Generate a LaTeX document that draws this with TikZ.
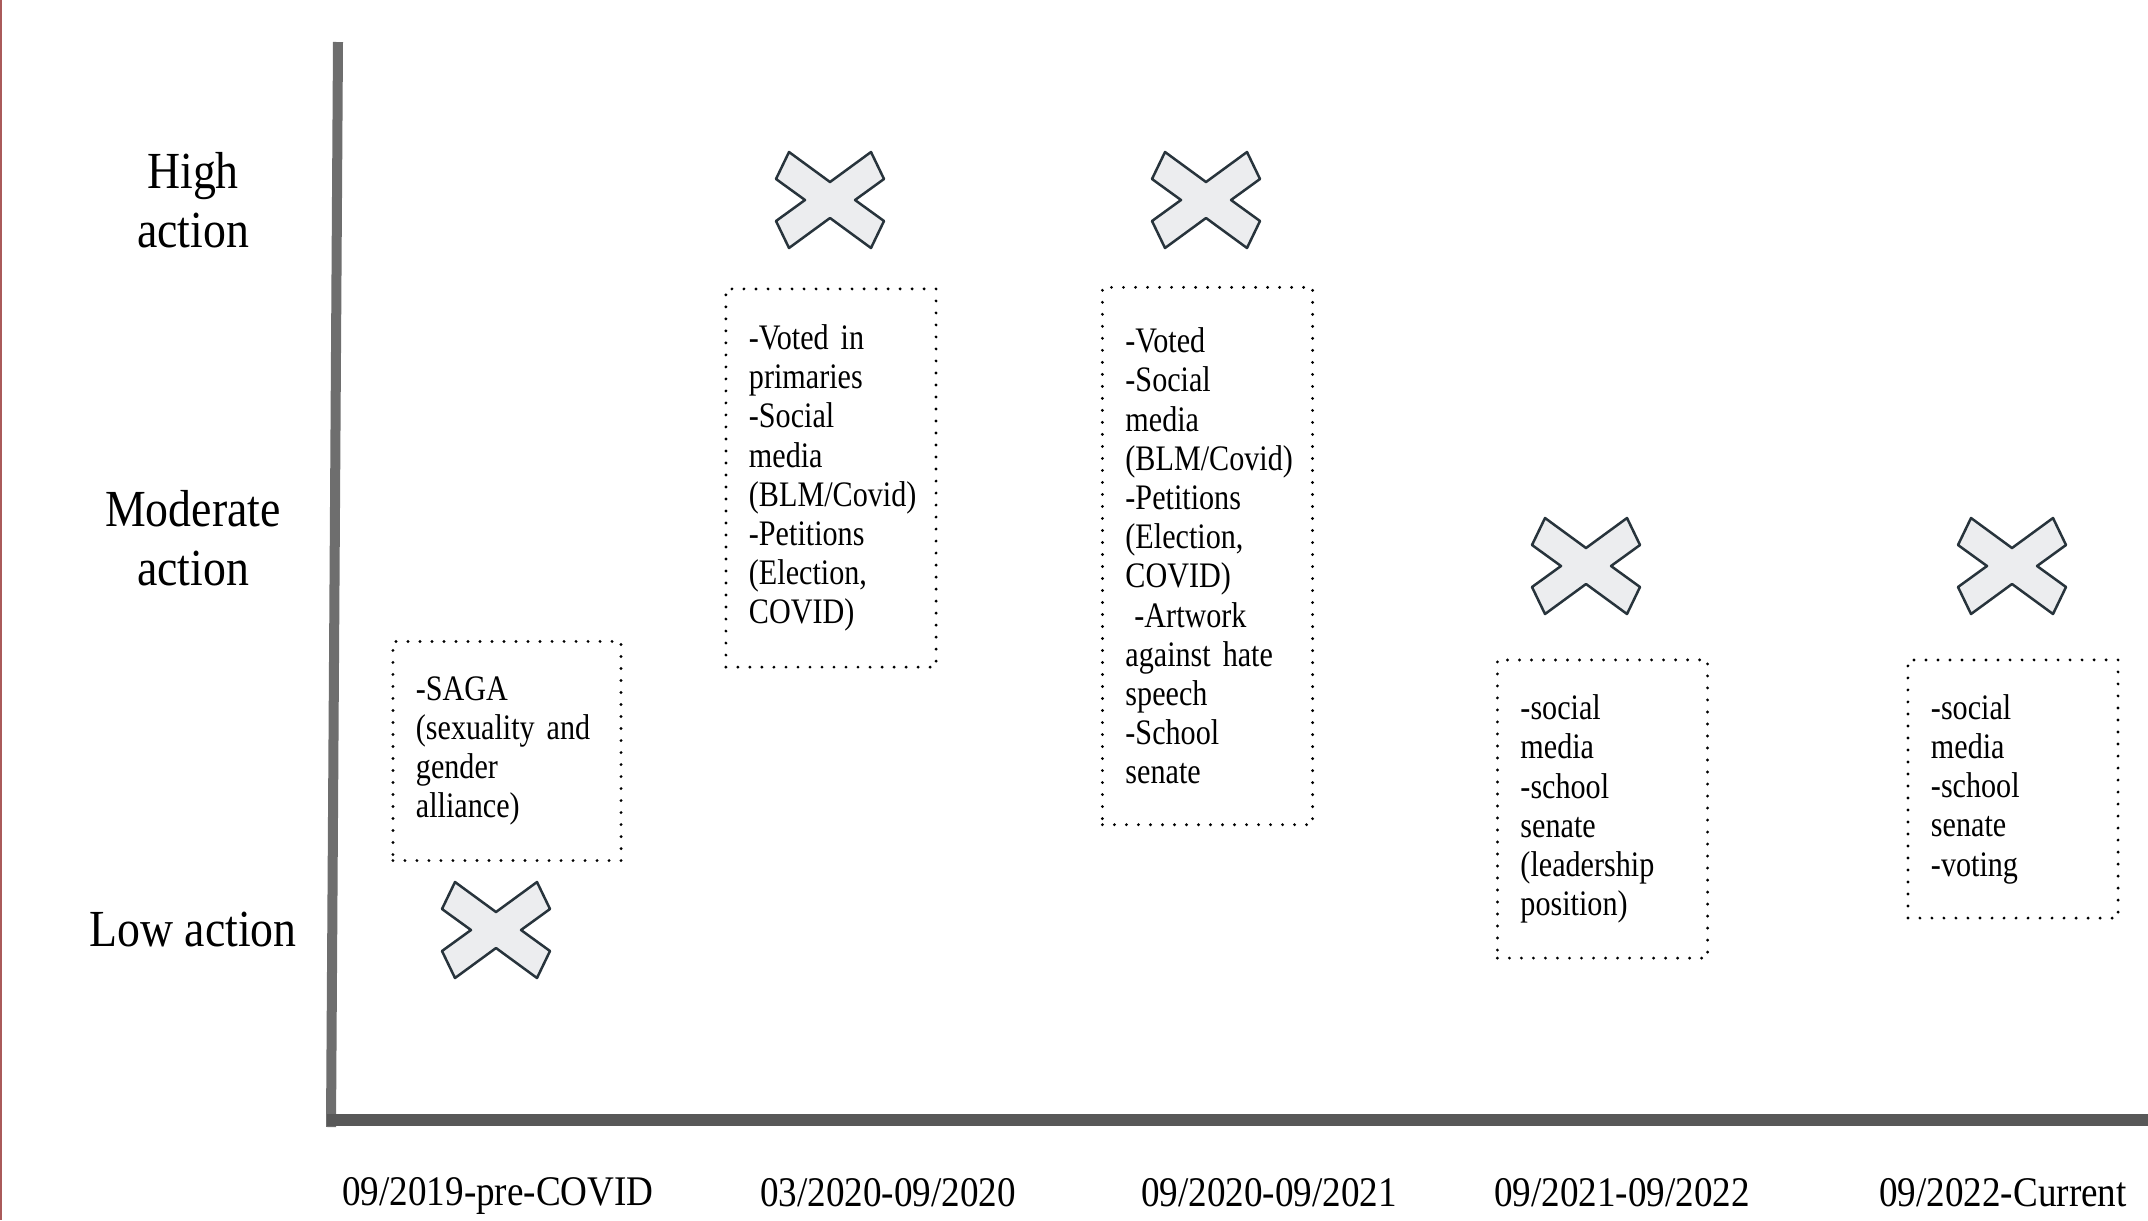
\documentclass[tikz,border=0pt]{standalone}
\usepackage{fontspec}
\setmainfont{Liberation Serif}[FakeStretch=0.88]
\newfontfamily\boxfont{Liberation Serif}[FakeStretch=0.84]
\usetikzlibrary{calc}

\definecolor{axisgray}{RGB}{110,110,110}
\definecolor{basegray}{RGB}{88,88,88}
\definecolor{markfill}{RGB}{236,237,239}
\definecolor{markline}{RGB}{40,52,60}
\definecolor{edgered}{RGB}{170,90,90}

\newcommand\boxtext{\boxfont\fontsize{10.2}{11.15}\selectfont\fontdimen2\font=1.9pt\relax}

\tikzset{
  actmark/.pic={
    \filldraw[fill=markfill, draw=markline, line width=0.025cm, line join=round]
      (-41,48) -- (0,18) -- (41,48) -- (54,21) -- (25,0) -- (54,-21) -- (41,-48)
      -- (0,-18) -- (-41,-48) -- (-54,-21) -- (-25,0) -- (-54,21) -- cycle;
  },
  actbox/.style={draw, line width=0.032cm, line cap=round, dash pattern=on 0pt off 0.12cm,
    inner xsep=0.23cm, inner ysep=0pt, text width=1.64cm, align=left,
    font=\boxtext},
  levellab/.style={align=center, font=\fontsize{14.8}{16.8}\selectfont},
  periodlab/.style={font=\fontsize{12}{14}\selectfont}
}

\begin{document}
\begin{tikzpicture}[x=0.01cm, y=-0.01cm]
  \useasboundingbox (0,0) rectangle (2148,1220);
  \draw[edgered, line width=0.02cm] (1,0) -- (1,1220);

  % axes
  \coordinate (ytop) at (338,42);
  \coordinate (ybot) at (331,1127);
  \coordinate (xleft) at (327,1120);
  \coordinate (xright) at (2148,1120);
  \draw[axisgray, line width=0.1cm] (ytop) -- (ybot);
  \draw[basegray, line width=0.12cm] (xleft) -- (xright);

  % levels
  \node[levellab] (high) at (193,200) {High\\action};
  \node[levellab] (moderate) at (193,538) {Moderate\\action};
  \node[levellab] (low) at (193,930) {Low action};

  % periods
  \node[periodlab] (t1) at (498,1196) {09/2019-pre-COVID};
  \node[periodlab] (t2) at (888,1193) {03/2020-09/2020};
  \node[periodlab] (t3) at (1269,1193) {09/2020-09/2021};
  \node[periodlab] (t4) at (1622,1193) {09/2021-09/2022};
  \node[periodlab] (t5) at (2003,1193) {09/2022-Current};

  % marks
  \pic (m1) at (496,930) {actmark};
  \pic (m2) at (830,200) {actmark};
  \pic (m3) at (1206,200) {actmark};
  \pic (m4) at (1586,566) {actmark};
  \pic (m5) at (2012,566) {actmark};

  % activities
  \node[actbox, text width=1.82cm, minimum height=2.19cm] (b1) at (507,751)
    {-SAGA\\(sexuality and\\gender\\alliance)};
  \node[actbox, minimum height=3.78cm] (b2) at (831,478)
    {-Voted in\\primaries\\-Social\\media\\(BLM/Covid)\\-Petitions\\(Election,\\COVID)};
  \node[actbox, minimum height=5.37cm] (b3) at (1207.5,556)
    {-Voted\\-Social\\media\\(BLM/Covid)\\-Petitions\\(Election,\\COVID)\\\hspace{0.25em}-Artwork\\against hate\\speech\\-School\\senate};
  \node[actbox, minimum height=2.98cm] (b4) at (1602.5,809)
    {-social\\media\\-school\\senate\\(leadership\\position)};
  \node[actbox, minimum height=2.58cm] (b5) at (2013,789)
    {-social\\media\\-school\\senate\\-voting};
\end{tikzpicture}
\end{document}
